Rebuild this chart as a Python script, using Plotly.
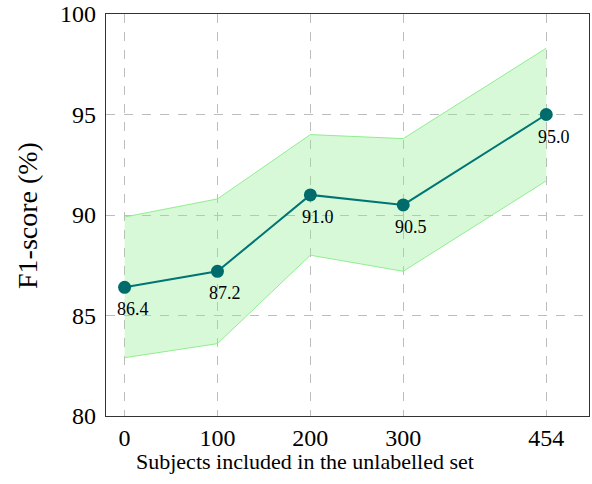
import plotly.graph_objects as go

subjects = [0, 100, 200, 300, 454]
f1 = [86.4, 87.2, 91.0, 90.5, 95.0]
upper = [89.9, 90.8, 94.0, 93.8, 98.3]
lower = [82.9, 83.6, 88.0, 87.2, 91.7]
labels = ["86.4", "87.2", "91.0", "90.5", "95.0"]
xticks = [0, 100, 200, 300, 454]
yticks = [80, 85, 90, 95, 100]

FONT = "Liberation Serif"
L, R, T, B = 106, 589, 14, 416  # plot area in window pixels

fig = go.Figure()
fig.add_trace(go.Scatter(x=subjects, y=lower, mode="lines",
                         line=dict(color="#90EE90", width=1), showlegend=False, hoverinfo="skip"))
fig.add_trace(go.Scatter(x=subjects, y=upper, mode="lines", fill="tonexty",
                         fillcolor="rgba(144,238,144,0.35)",
                         line=dict(color="#90EE90", width=1), showlegend=False, hoverinfo="skip"))
fig.add_trace(go.Scatter(x=subjects, y=f1, mode="lines+markers",
                         line=dict(color="#007575", width=2),
                         marker=dict(color="#006B6B", size=13),
                         showlegend=False))

for xv, yv, lab in zip(subjects, f1, labels):
    fig.add_annotation(x=xv, y=yv, text=lab, showarrow=False, xshift=8, yshift=-22,
                       xanchor="center", yanchor="middle",
                       font=dict(family=FONT, size=18, color="black"))

axis_common = dict(showline=True, linecolor="#333", linewidth=1.2, mirror=True,
                   showgrid=True, gridcolor="#BDBDBD", griddash="dash", gridwidth=1,
                   zeroline=False, automargin=False,
                   tickfont=dict(family=FONT, size=24, color="black"))
fig.update_xaxes(range=[-20, 500], tickvals=xticks, ticktext=[str(v) for v in xticks],
                 ticks="", **axis_common)
fig.update_yaxes(range=[80, 100], tickvals=yticks,
                 ticks="outside", ticklen=4, tickcolor="rgba(0,0,0,0)", **axis_common)

fig.add_annotation(text="Subjects included in the unlabelled set", xref="paper", yref="paper",
                   x=(305 - L) / (R - L), y=-(461 - B) / (B - T),
                   xanchor="center", yanchor="middle", showarrow=False,
                   font=dict(family=FONT, size=22, color="black"))
fig.add_annotation(text="F1-score (%)", xref="paper", yref="paper",
                   x=-(L - 27) / (R - L), y=(B - 216) / (B - T),
                   xanchor="center", yanchor="middle", showarrow=False, textangle=-90,
                   font=dict(family=FONT, size=28, color="black"))

fig.update_layout(width=592, height=484,
                  margin=dict(l=L, r=592 - R, t=T, b=484 - B),
                  plot_bgcolor="white", paper_bgcolor="white", hovermode=False)
fig.write_html("out.html", config={"displayModeBar": False},
               post_script="document.body.style.margin='0';")
